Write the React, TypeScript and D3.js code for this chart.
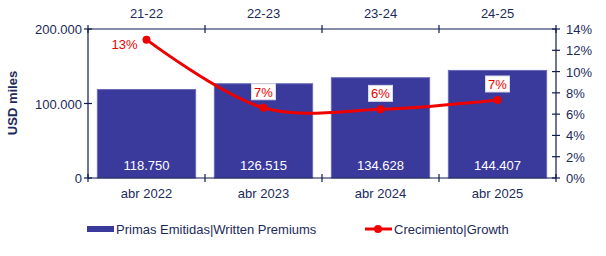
import * as d3 from 'd3';
import React, { useRef, useEffect } from 'react';

const categories = ['abr 2022', 'abr 2023', 'abr 2024', 'abr 2025'];
const periods = ['21-22', '22-23', '23-24', '24-25'];
const premiums = [118750, 126515, 134628, 144407];
const growth = [13.0, 6.6, 6.45, 7.33];
const growthLabels = ['13%', '7%', '6%', '7%'];
const leftTicks = [0, 100000, 200000];
const rightTicks = [0, 2, 4, 6, 8, 10, 12, 14];

const AXIS = '#0f1b4c';
const TEXT = '#1c2a5a';
const BAR = '#3a3a9d';
const RED = '#ee0000';
const FONT = 'Liberation Sans, Arial, sans-serif';

function Chart({ width, height }) {
    const ref = useRef(null);

    useEffect(() => {
        const svg = d3.select(ref.current);
        svg.selectAll('*').remove();

        const left = 88, right = 556, top = 29, bottom = 178;

        const x = d3.scaleBand()
            .domain(categories)
            .range([left, right])
            .paddingInner(0.16)
            .paddingOuter(0.08);
        const band = d3.scaleBand().domain(categories).range([left, right]);

        const y = d3.scaleLinear().domain([0, 200000]).range([bottom, top]);
        const y2 = d3.scaleLinear().domain([0, 14]).range([bottom, top]);

        const fmt = d3.formatLocale({ decimal: ',', thousands: '.', grouping: [3], currency: ['', ''] });
        const f = fmt.format(',.0f');

        // bars
        svg.append('g')
            .selectAll('rect')
            .data(premiums)
            .join('rect')
            .attr('x', (d, i) => x(categories[i]))
            .attr('y', d => y(d))
            .attr('width', x.bandwidth())
            .attr('height', d => y(0) - y(d))
            .attr('fill', BAR)
            .attr('stroke', '#6a6ab8')
            .attr('stroke-width', 1);

        svg.append('g')
            .selectAll('text')
            .data(premiums)
            .join('text')
            .attr('x', (d, i) => band(categories[i]) + band.bandwidth() / 2)
            .attr('y', 170)
            .attr('text-anchor', 'middle')
            .attr('fill', '#ffffff')
            .style('font', `13px ${FONT}`)
            .text(d => f(d));

        // axes lines
        const axes = svg.append('g').attr('stroke', AXIS).attr('stroke-width', 1.2);
        axes.append('line').attr('x1', left).attr('x2', right).attr('y1', top).attr('y2', top);
        axes.append('line').attr('x1', left).attr('x2', right).attr('y1', bottom).attr('y2', bottom);
        axes.append('line').attr('x1', left).attr('x2', left).attr('y1', top).attr('y2', bottom);
        axes.append('line').attr('x1', right).attr('x2', right).attr('y1', top).attr('y2', bottom);

        const bounds = [...categories.map(c => band(c)), right];
        bounds.forEach(b => {
            axes.append('line').attr('x1', b).attr('x2', b).attr('y1', top - 4).attr('y2', top + 4);
            axes.append('line').attr('x1', b).attr('x2', b).attr('y1', bottom - 4).attr('y2', bottom + 4);
        });
        leftTicks.forEach(t => {
            axes.append('line').attr('x1', left - 4).attr('x2', left + 4).attr('y1', y(t)).attr('y2', y(t));
        });
        rightTicks.forEach(t => {
            axes.append('line').attr('x1', right - 4).attr('x2', right + 4).attr('y1', y2(t)).attr('y2', y2(t));
        });

        // tick labels
        svg.append('g')
            .selectAll('text')
            .data(leftTicks)
            .join('text')
            .attr('x', 82)
            .attr('y', d => y(d) + 5)
            .attr('text-anchor', 'end')
            .attr('fill', TEXT)
            .style('font', `13px ${FONT}`)
            .text(d => f(d));

        svg.append('g')
            .selectAll('text')
            .data(rightTicks)
            .join('text')
            .attr('x', 566)
            .attr('y', d => y2(d) + 5)
            .attr('fill', TEXT)
            .style('font', `13px ${FONT}`)
            .text(d => d + '%');

        svg.append('g')
            .selectAll('text')
            .data(categories)
            .join('text')
            .attr('x', d => band(d) + band.bandwidth() / 2)
            .attr('y', 198)
            .attr('text-anchor', 'middle')
            .attr('fill', TEXT)
            .style('font', `13px ${FONT}`)
            .text(d => d);

        svg.append('g')
            .selectAll('text')
            .data(periods)
            .join('text')
            .attr('x', (d, i) => band(categories[i]) + band.bandwidth() / 2)
            .attr('y', 18)
            .attr('text-anchor', 'middle')
            .attr('fill', TEXT)
            .style('font', `13px ${FONT}`)
            .text(d => d);

        svg.append('text')
            .attr('transform', `translate(17, 103) rotate(-90)`)
            .attr('text-anchor', 'middle')
            .attr('fill', TEXT)
            .style('font', `bold 13px ${FONT}`)
            .text('USD miles');

        // growth line
        const cx = (i) => band(categories[i]) + band.bandwidth() / 2;
        const line = d3.line()
            .x((d, i) => cx(i))
            .y(d => y2(d))
            .curve(d3.curveCatmullRom.alpha(0.5));

        svg.append('path')
            .datum(growth)
            .attr('d', line)
            .attr('fill', 'none')
            .attr('stroke', RED)
            .attr('stroke-width', 3);

        svg.append('g')
            .selectAll('circle')
            .data(growth)
            .join('circle')
            .attr('cx', (d, i) => cx(i))
            .attr('cy', d => y2(d))
            .attr('r', 4)
            .attr('fill', RED);

        // growth labels
        const lab = svg.append('g');
        growth.forEach((d, i) => {
            if (i === 0) {
                lab.append('text')
                    .attr('x', cx(i) - 22)
                    .attr('y', y2(d) + 9)
                    .attr('text-anchor', 'middle')
                    .attr('fill', RED)
                    .style('font', `13px ${FONT}`)
                    .text(growthLabels[i]);
                return;
            }
            const ly = y2(d) - 16;
            lab.append('rect')
                .attr('x', cx(i) - 12)
                .attr('y', ly - 8)
                .attr('width', 24)
                .attr('height', 16)
                .attr('fill', '#ffffff')
                .attr('stroke', '#d8d8e8')
                .attr('stroke-width', 1);
            lab.append('text')
                .attr('x', cx(i))
                .attr('y', ly + 5)
                .attr('text-anchor', 'middle')
                .attr('fill', RED)
                .style('font', `13px ${FONT}`)
                .text(growthLabels[i]);
        });

        // legend
        const lg = svg.append('g');
        lg.append('rect').attr('x', 87).attr('y', 226).attr('width', 27).attr('height', 6).attr('fill', BAR);
        lg.append('text').attr('x', 116).attr('y', 234).attr('fill', TEXT)
            .style('font', `13px ${FONT}`).text('Primas Emitidas|Written Premiums');
        lg.append('line').attr('x1', 365).attr('x2', 392).attr('y1', 229).attr('y2', 229)
            .attr('stroke', RED).attr('stroke-width', 3);
        lg.append('circle').attr('cx', 378).attr('cy', 229).attr('r', 4).attr('fill', RED);
        lg.append('text').attr('x', 394).attr('y', 234).attr('fill', TEXT)
            .style('font', `13px ${FONT}`).text('Crecimiento|Growth');
    }, []);

    return (
        <svg ref={ref} width={width} height={height}
            style={{ position: 'absolute', left: 0, top: 0, background: '#ffffff' }}>
        </svg>
    );
}

export default function App() {
    return <Chart width={606} height={256} />;
}
